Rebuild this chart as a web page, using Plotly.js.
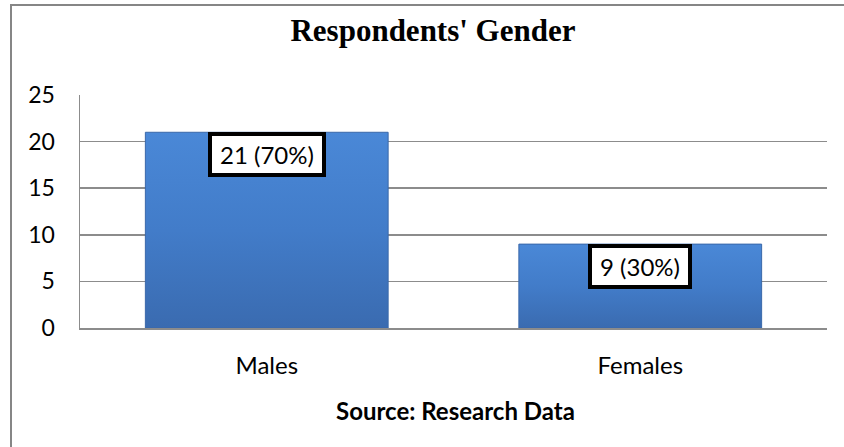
<!DOCTYPE html>
<html>
<head>
<meta charset="utf-8">
<script src="https://cdn.plot.ly/plotly-3.0.1.min.js"></script>
<style>
  html, body { margin: 0; padding: 0; width: 844px; height: 447px; overflow: hidden; background: #fff; }
  #frame { position: absolute; left: 10px; top: 4px; width: 900px; height: 500px;
           border-left: 2px solid #868686; border-top: 2px solid #868686; }
  #chart { position: absolute; left: 0; top: 0; width: 844px; height: 447px; }
</style>
</head>
<body>
<div id="frame"></div>
<div id="chart"></div>
<script>
// Respondents by gender: counts and shares
const categories = ['Males', 'Females'];
const counts = [21, 9];
const percents = [70, 30];
const yTicks = [0, 5, 10, 15, 20, 25];
const chartTitle = "Respondents' Gender";
const sourceNote = 'Source: Research Data';

const sans = 'Lato, "Open Sans", "Liberation Sans", sans-serif';
const gridGray = '#8c8c8c';
const labelFontSize = 24;

// width of a label's text, used to size its boxed annotation
const ctx = document.createElement('canvas').getContext('2d');
ctx.font = labelFontSize + 'px Lato';
const textWidth = s => ctx.measureText(s).width;

const labels = counts.map((c, i) => `${c} (${percents[i]}%)`);

const trace = {
  type: 'bar',
  x: categories,
  y: counts,
  width: 0.65,
  marker: { color: '#4279c6', line: { color: '#3a68aa', width: 1 } },
  hoverinfo: 'none'
};

const annotations = categories.map((cat, i) => ({
  x: cat, y: counts[i], xref: 'x', yref: 'y',
  xanchor: 'center', yanchor: 'top', yshift: 0,
  text: labels[i], showarrow: false,
  font: { family: sans, size: labelFontSize, color: '#000' },
  bgcolor: '#ffffff', bordercolor: '#000000', borderwidth: 4, borderpad: 2,
  width: Math.round(textWidth(labels[i]) + 12), height: 33
}));

annotations.push({
  xref: 'paper', yref: 'paper', x: 0.503, y: -0.352,
  xanchor: 'center', yanchor: 'middle', showarrow: false,
  text: sourceNote,
  font: { family: sans, size: 24, color: '#000', weight: 'bold' }
});

const layout = {
  width: 844, height: 447,
  margin: { l: 80, r: 17, t: 95, b: 119, pad: 0 },
  paper_bgcolor: 'rgba(0,0,0,0)',
  plot_bgcolor: 'rgba(0,0,0,0)',
  showlegend: false,
  title: {
    text: chartTitle,
    font: { family: '"Liberation Serif", "Times New Roman", serif', size: 31, color: '#000', weight: 'bold' },
    xref: 'container', x: 0.513, xanchor: 'center',
    yref: 'container', y: 0.933, yanchor: 'middle'
  },
  xaxis: {
    type: 'category',
    showline: true, linecolor: gridGray, linewidth: 1.5,
    ticks: '', showgrid: false, zeroline: false,
    tickfont: { family: sans, size: 24, color: '#000' },
    ticklabelstandoff: 16,
    fixedrange: true
  },
  yaxis: {
    range: [0, 25], tickvals: yTicks, ticktext: yTicks.map(String),
    showgrid: true, gridcolor: gridGray, gridwidth: 1.5,
    showline: true, linecolor: gridGray, linewidth: 1.5,
    ticks: '', zeroline: false,
    tickfont: { family: sans, size: 23, color: '#000' },
    ticklabelstandoff: 19,
    fixedrange: true
  },
  annotations: annotations
};

Plotly.newPlot('chart', [trace], layout, { staticPlot: true, displayModeBar: false }).then(gd => {
  // shaded fill for the bars: lighter at the top, deeper at the bottom
  const ns = 'http://www.w3.org/2000/svg';
  const svg = gd.querySelector('.main-svg');
  let defs = svg.querySelector('defs');
  if (!defs) { defs = document.createElementNS(ns, 'defs'); svg.insertBefore(defs, svg.firstChild); }
  const grad = document.createElementNS(ns, 'linearGradient');
  grad.setAttribute('id', 'barShade');
  grad.setAttribute('x1', '0'); grad.setAttribute('y1', '0');
  grad.setAttribute('x2', '0'); grad.setAttribute('y2', '1');
  [['0', '#4a88d7'], ['0.5', '#427cc9'], ['1', '#3a6bb0']].forEach(([o, c]) => {
    const s = document.createElementNS(ns, 'stop');
    s.setAttribute('offset', o); s.setAttribute('stop-color', c);
    grad.appendChild(s);
  });
  defs.appendChild(grad);
  gd.querySelectorAll('.barlayer .point path').forEach(p => { p.style.fill = 'url(#barShade)'; });
});
</script>
</body>
</html>
